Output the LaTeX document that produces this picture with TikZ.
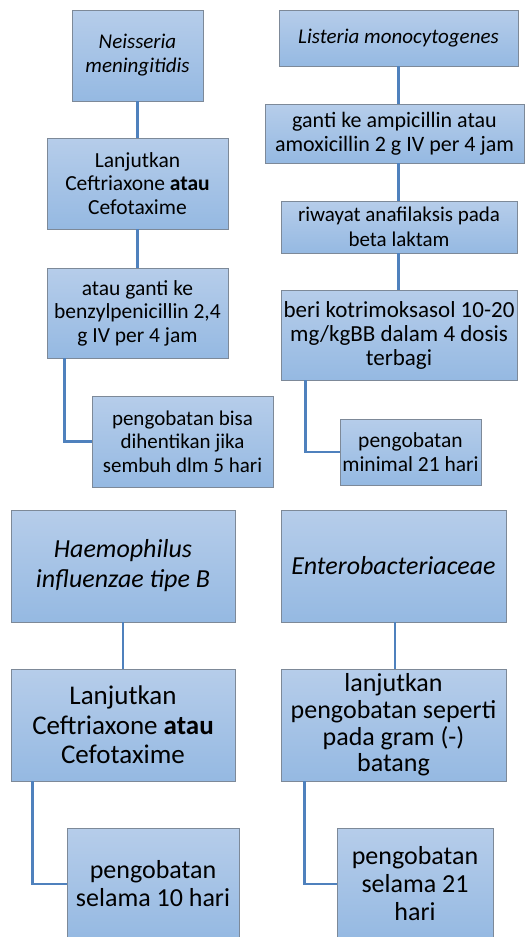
\documentclass[tikz,border=0pt]{standalone}
\usepackage{fontspec}
\setmainfont{Carlito}
\newcommand{\fs}[2]{\fontsize{#1}{#2}\selectfont}
\begin{document}
\begin{tikzpicture}[x=1pt,y=-1pt,
  box/.style={rectangle, draw=boxline, line width=0.9pt,
    top color=boxtop, bottom color=boxbottom, align=center,
    inner sep=1pt, text=black},
  link/.style={draw=linkblue, line width=2.2pt}]
\definecolor{boxtop}{RGB}{182,205,234}
\definecolor{boxbottom}{RGB}{149,185,226}
\definecolor{boxline}{RGB}{125,137,152}
\definecolor{linkblue}{RGB}{79,129,189}

\useasboundingbox (0,0) rectangle (526,937);
\clip (0,0) rectangle (526,937);

% Neisseria meningitidis
\node[box, font=\fs{21}{24}, minimum width=131pt, minimum height=91pt] (n1) at (137.5,55.5) {\itshape Neisseria\\\itshape meningitidis};
\node[box, font=\fs{21.5}{23.5}, minimum width=181pt, minimum height=91pt] (n2) at (137.5,183.5) {Lanjutkan\\Ceftriaxone \textbf{atau}\\Cefotaxime};
\node[box, font=\fs{21.5}{23.5}, minimum width=181pt, minimum height=90pt] (n3) at (137.5,313) {atau ganti ke\\benzylpenicillin 2,4\\g IV per 4 jam};
\node[box, font=\fs{21}{23.5}, minimum width=181pt, minimum height=91pt] (n4) at (182.5,441.5) {pengobatan bisa\\dihentikan jika\\sembuh dlm 5 hari};

% Listeria monocytogenes
\node[box, font=\fs{21}{24}, minimum width=239pt, minimum height=56pt] (l1) at (398.5,38) {\itshape Listeria monocytogenes};
\node[box, font=\fs{22}{24}, minimum width=259pt, minimum height=59pt] (l2) at (394.5,133.5) {ganti ke ampicillin atau\\amoxicillin 2 g IV per 4 jam};
\node[box, font=\fs{21}{24.5}, minimum width=236pt, minimum height=52pt] (l3) at (399,227) {riwayat anafilaksis pada\\beta laktam};
\node[box, font=\fs{23}{24}, minimum width=236pt, minimum height=90pt] (l4) at (399,335) {beri kotrimoksasol 10-20\\mg/kgBB dalam 4 dosis\\terbagi};
\node[box, font=\fs{21.5}{24}, minimum width=141pt, minimum height=66pt] (l5) at (410.5,452) {pengobatan\\minimal 21 hari};

% Haemophilus influenzae tipe B
\node[box, font=\fs{26}{30}, minimum width=224pt, minimum height=112pt] (h1) at (123,566) {\itshape Haemophilus\\\itshape influenzae tipe B};
\node[box, font=\fs{27}{29.5}, minimum width=224pt, minimum height=112pt] (h2) at (123,725) {Lanjutkan\\Ceftriaxone \textbf{atau}\\Cefotaxime};
\node[box, font=\fs{26}{28}, minimum width=172pt, minimum height=112pt] (h3) at (153,884) {pengobatan\\selama 10 hari};

% Enterobacteriaceae
\node[box, font=\fs{26}{30}, minimum width=225pt, minimum height=112pt] (e1) at (393.5,566) {\itshape Enterobacteriaceae};
\node[box, font=\fs{26}{26.7}, minimum width=225pt, minimum height=112pt] (e2) at (393.5,725) {lanjutkan\\pengobatan seperti\\pada gram (-)\\batang};
\node[box, font=\fs{26}{28}, minimum width=156pt, minimum height=112pt] (e3) at (415,884) {pengobatan\\selama 21\\hari};

% connectors
\path[link] (n1.south) -- (n2.north);
\path[link] (n2.south) -- (n3.north);
\path[link] ([xshift=18pt]n3.south west) |- (n4.west);

\path[link] (l1.south) -- (l1.south |- l2.north);
\path[link] (l1.south |- l2.south) -- (l1.south |- l3.north);
\path[link] (l1.south |- l3.south) -- (l1.south |- l4.north);
\path[link] ([xshift=25pt]l4.south west) |- (l5.west);

\path[link] (h1.south) -- (h2.north);
\path[link] ([xshift=22pt]h2.south west) |- (h3.west);

\path[link] ([xshift=1.5pt]e1.south) -- ([xshift=1.5pt]e2.north);
\path[link] ([xshift=24pt]e2.south west) |- (e3.west);
\end{tikzpicture}
\end{document}
